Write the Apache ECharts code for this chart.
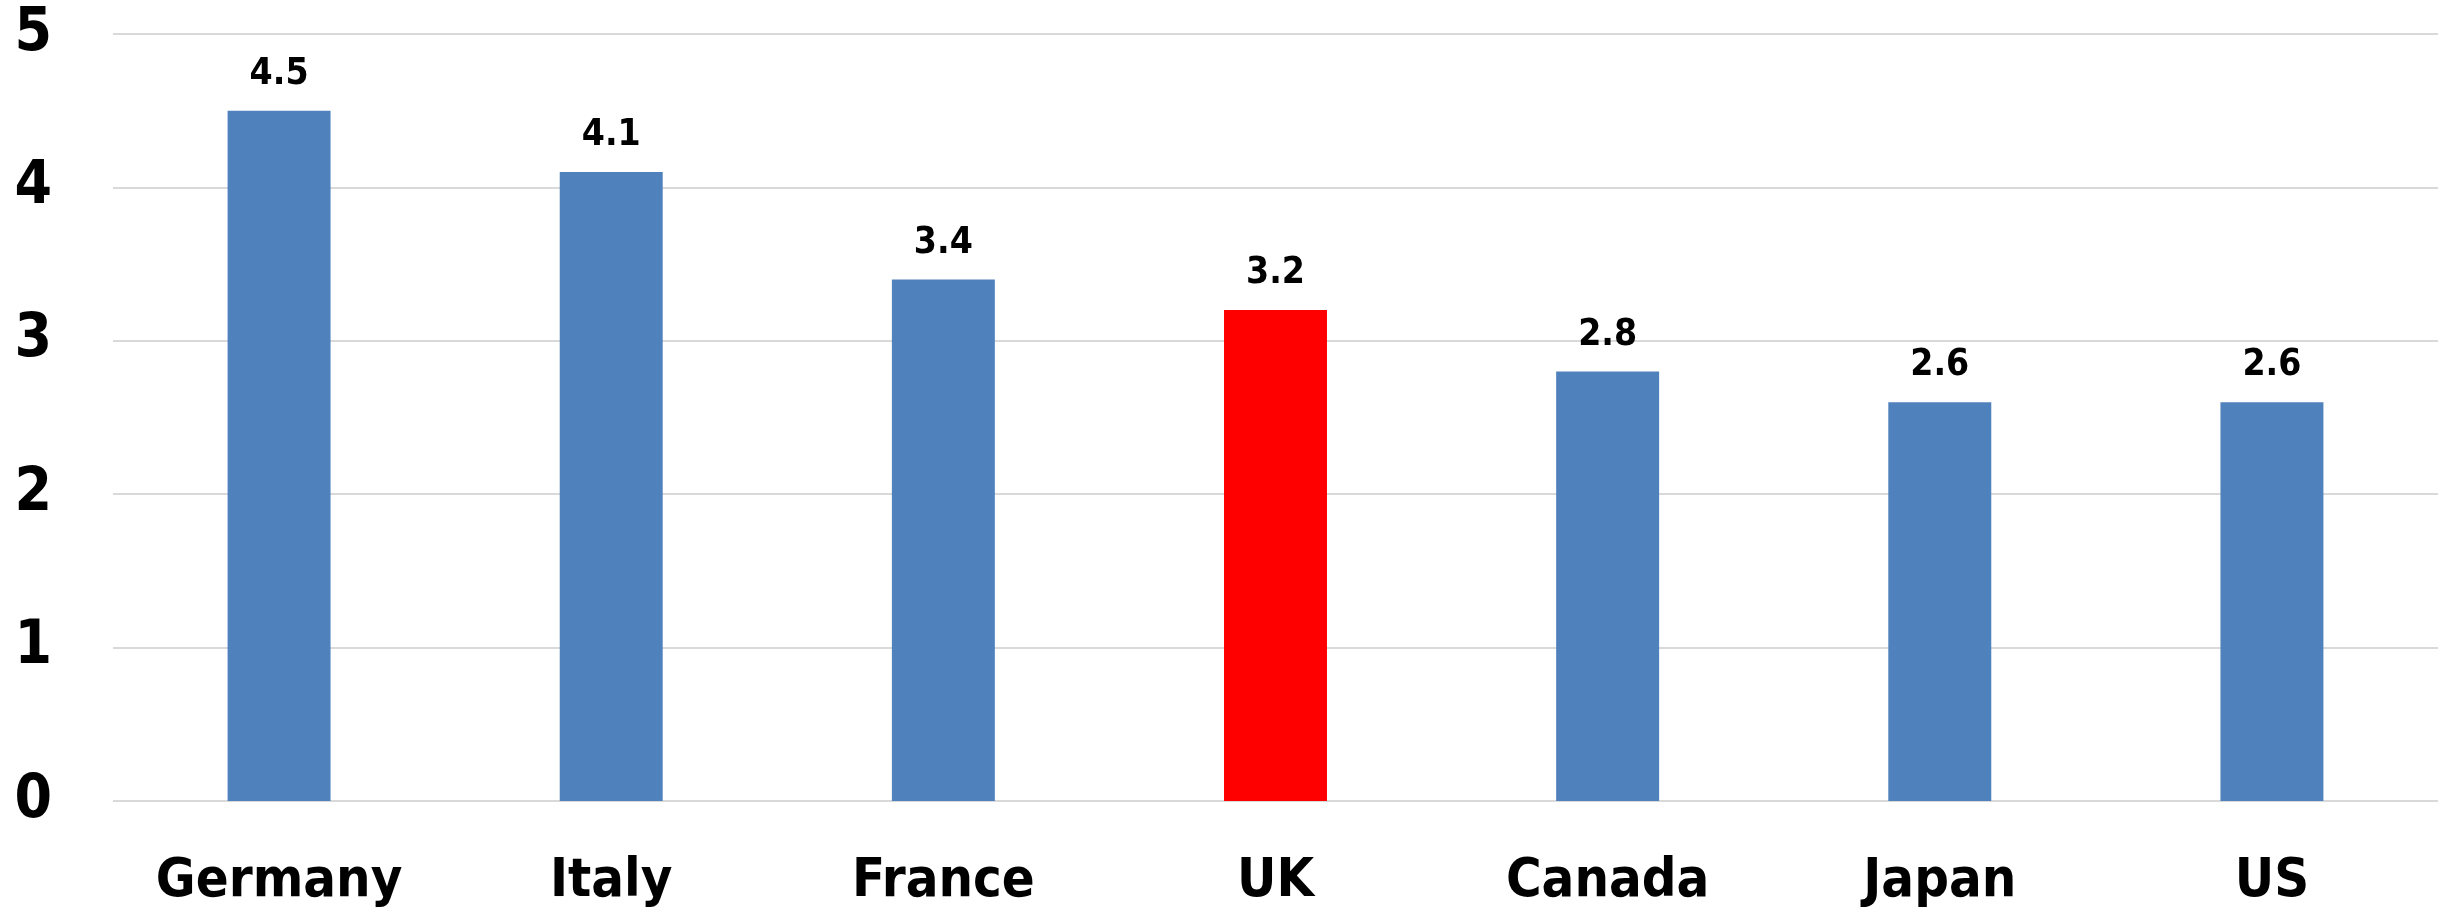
<!DOCTYPE html>
<html><head><meta charset="utf-8">
<script src="https://cdn.jsdelivr.net/npm/echarts@6/dist/echarts.min.js"></script>
<style>html,body{margin:0;padding:0;background:#fff}#c{width:2448px;height:915px}</style>
</head><body><div id="c"></div>
<script>
const categories = ['Germany','Italy','France','UK','Canada','Japan','US'];
const values = [4.5, 4.1, 3.4, 3.2, 2.8, 2.6, 2.6];
const highlight = 'UK';
const yTicks = [0,1,2,3,4,5];
const FONT = '"Liberation Sans Narrow","DejaVu Sans Condensed","Roboto Condensed",sans-serif';
const chart = echarts.init(document.getElementById('c'));
chart.setOption({
  animation:false,
  grid:{left:113,right:10,top:34,bottom:114,containLabel:false},
  xAxis:{type:'category',data:categories,
    axisLine:{show:false},axisTick:{show:false},
    axisLabel:{interval:0,margin:54,fontSize:54,fontWeight:'bold',color:'#000',fontFamily:FONT}},
  yAxis:{type:'value',min:yTicks[0],max:yTicks[yTicks.length-1],interval:1,
    axisLine:{show:false},axisTick:{show:false},
    splitLine:{lineStyle:{color:'#d9d9d9',width:2}},
    axisLabel:{margin:61,fontSize:60,fontWeight:'bold',color:'#000',fontFamily:FONT}},
  series:[{type:'bar',barWidth:'31%',
    data:values.map((v,i)=>({value:v,itemStyle:{color:categories[i]===highlight?'#ff0000':'#4f81bd'}})),
    label:{show:true,position:'top',distance:18,fontSize:37,fontWeight:'bold',color:'#000',fontFamily:FONT,
      formatter:p=>p.value.toFixed(1)}}]
});
</script></body></html>
